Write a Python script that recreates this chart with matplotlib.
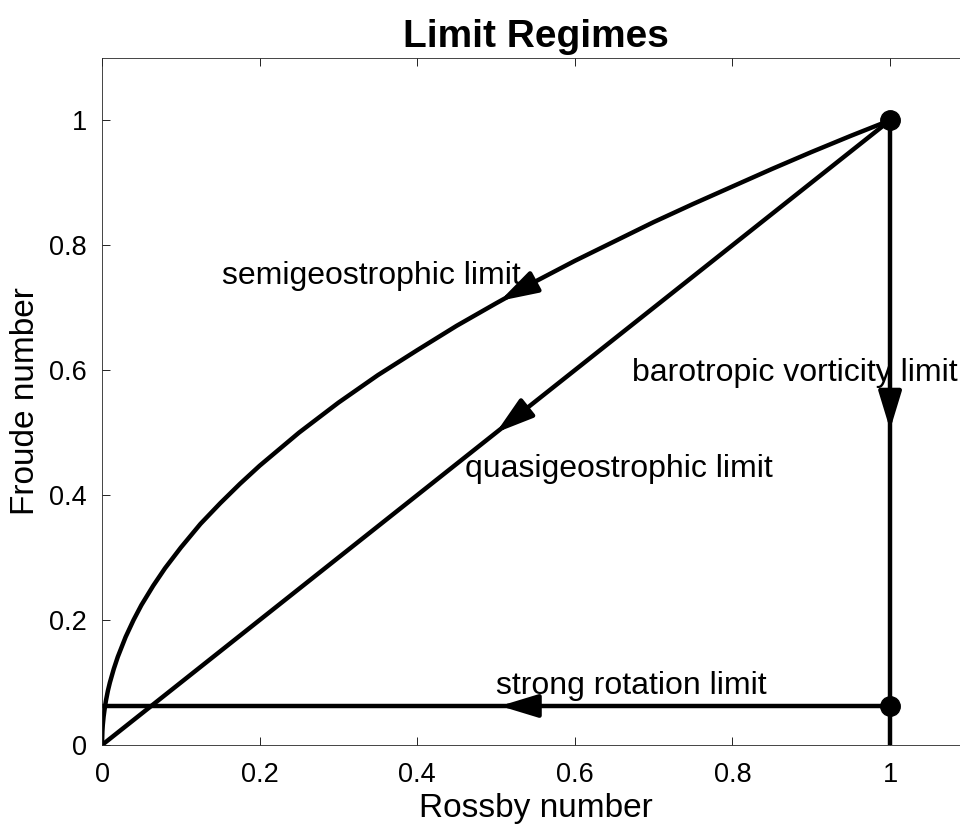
"""Limit regimes in the Rossby / Froude number plane."""
import matplotlib
matplotlib.use("Agg")
import matplotlib.pyplot as plt

plt.rcParams["font.family"] = ["Liberation Sans", "DejaVu Sans"]

# semigeostrophic path
semi_x = [0, 0.0005, 0.001, 0.002, 0.0035, 0.005, 0.0075, 0.01, 0.015, 0.02,
          0.03, 0.04, 0.05, 0.065, 0.08, 0.1, 0.125, 0.15, 0.175, 0.2, 0.25,
          0.3, 0.35, 0.4, 0.45, 0.5, 0.55, 0.6, 0.65, 0.7, 0.75, 0.8, 0.85,
          0.9, 0.95, 1.0]
semi_y = [0, 0.022, 0.032, 0.045, 0.059, 0.071, 0.087, 0.10, 0.122, 0.141,
          0.173, 0.2, 0.224, 0.255, 0.283, 0.316, 0.354, 0.387, 0.418, 0.447,
          0.5, 0.548, 0.592, 0.632, 0.671, 0.707, 0.742, 0.775, 0.806, 0.837,
          0.866, 0.894, 0.922, 0.949, 0.975, 1.0]
# quasigeostrophic path
quasi_x = [0, 1]
quasi_y = [0, 1]
# barotropic vorticity path
baro_x = [1, 1]
baro_y = [1, 0]
# strong rotation path
strong_x = [1, 0]
strong_y = [0.0625, 0.0625]
# endpoint markers
pts_x = [1, 1]
pts_y = [1, 0.0625]

# arrows: (tail, tip) in data coords
arrows = [
    ((0.54, 0.735), (0.505, 0.711)),
    ((0.535, 0.535), (0.50, 0.50)),
    ((1.0, 0.55), (1.0, 0.505)),
    ((0.545, 0.0625), (0.505, 0.0625)),
]

labels = [
    (0.152, 0.75, "semigeostrophic limit"),
    (0.46, 0.442, "quasigeostrophic limit"),
    (0.672, 0.595, "barotropic vorticity limit"),
    (0.50, 0.094, "strong rotation limit"),
]

fig = plt.figure(figsize=(9.6, 8.34), dpi=100)
ax = fig.add_axes([0.10625, 0.1067, 0.903, 0.824])

lw = 3.2
for xs, ys in [(semi_x, semi_y), (quasi_x, quasi_y),
               (baro_x, baro_y), (strong_x, strong_y)]:
    ax.plot(xs, ys, color="k", lw=lw, solid_capstyle="butt",
            solid_joinstyle="round")
ax.plot(pts_x, pts_y, "o", color="k", ms=14)

for tail, tip in arrows:
    ax.annotate("", xy=tip, xytext=tail,
                arrowprops=dict(arrowstyle="-|>,head_length=2.3,head_width=0.7",
                                color="k", lw=lw, shrinkA=0, shrinkB=0,
                                mutation_scale=10))

for x, y, s in labels:
    ax.text(x, y, s, fontsize=23, ha="left", va="center")

ax.set_xlim(0, 1.1)
ax.set_ylim(0, 1.1)
ax.set_xticks([0, 0.2, 0.4, 0.6, 0.8, 1])
ax.set_xticklabels(["0", "0.2", "0.4", "0.6", "0.8", "1"])
ax.set_yticks([0, 0.2, 0.4, 0.6, 0.8, 1])
ax.set_yticklabels(["0", "0.2", "0.4", "0.6", "0.8", "1"])
ax.tick_params(direction="in", top=True, right=True, labelsize=19.5,
               length=6, width=0.6)
ax.tick_params(axis="x", pad=12)
ax.tick_params(axis="y", pad=11)
for sp in ax.spines.values():
    sp.set_linewidth(0.6)
    sp.set_color("#262626")
ax.set_xlabel("Rossby number", fontsize=24, labelpad=4)
ax.set_ylabel("Froude number", fontsize=24, labelpad=6)
ax.set_title("Limit Regimes", fontsize=28, fontweight="bold", pad=8)

fig.savefig("out.png", dpi=100)
